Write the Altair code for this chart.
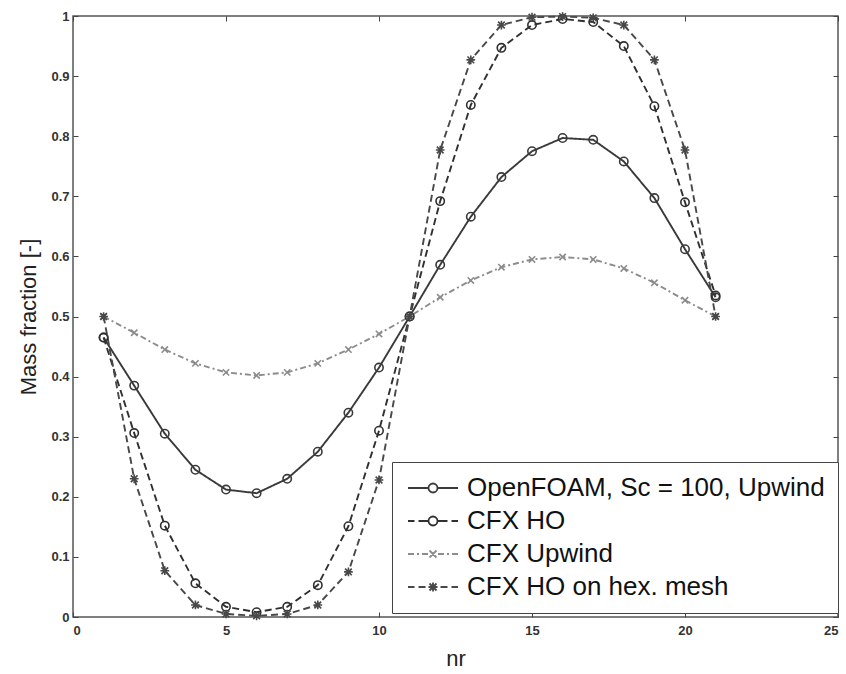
import altair as alt
import pandas as pd

# ---------------- data ----------------
nr = list(range(1, 22))
openfoam = [0.465, 0.385, 0.305, 0.245, 0.212, 0.206, 0.230, 0.275, 0.340, 0.415, 0.500,
            0.586, 0.666, 0.732, 0.775, 0.797, 0.794, 0.758, 0.697, 0.612, 0.532]
cfx_ho = [0.465, 0.306, 0.152, 0.056, 0.017, 0.008, 0.017, 0.053, 0.151, 0.310, 0.500,
          0.692, 0.852, 0.947, 0.985, 0.995, 0.990, 0.950, 0.850, 0.690, 0.535]
cfx_upwind = [0.500, 0.473, 0.445, 0.422, 0.407, 0.402, 0.407, 0.422, 0.445, 0.471, 0.500,
              0.532, 0.560, 0.582, 0.595, 0.599, 0.595, 0.580, 0.556, 0.527, 0.500]
cfx_hex = [0.500, 0.230, 0.077, 0.020, 0.005, 0.002, 0.005, 0.020, 0.075, 0.228, 0.500,
           0.777, 0.927, 0.985, 0.998, 0.999, 0.997, 0.985, 0.927, 0.777, 0.500]

series_names = ["OpenFOAM, Sc = 100, Upwind", "CFX HO", "CFX Upwind", "CFX HO on hex. mesh"]
series_values = [openfoam, cfx_ho, cfx_upwind, cfx_hex]
x_ticks = [0, 5, 10, 15, 20, 25]
y_ticks = [0, 0.1, 0.2, 0.3, 0.4, 0.5, 0.6, 0.7, 0.8, 0.9, 1]

# ---------------- styles ----------------
line_colors = ["#3a3a3a", "#303030", "#8c8c8c", "#484848"]
line_dashes = [[1, 0], [7, 4], [6, 3, 2, 3], [7, 4]]
x_path = "M-1,-1L1,1M-1,1L1,-1"
star_path = "M-1,-1L1,1M-1,1L1,-1M-1.3,0L1.3,0M0,-1.3L0,1.3"
marker_shapes = ["circle", "circle", x_path, star_path]
marker_sizes = [70, 70, 40, 45]

legend_paths = [
    "M-1,0H1.05M1.95,0H4M1.95,0A0.45,0.45,0,1,1,1.05,0A0.45,0.45,0,1,1,1.95,0",
    "M-1,0H-0.35M0.05,0H1.05M1.95,0H2.95M3.35,0H4M1.95,0A0.45,0.45,0,1,1,1.05,0A0.45,0.45,0,1,1,1.95,0",
    "M-1,0H-0.4M-0.1,0H0.1M0.4,0H1.0M2.0,0H2.6M2.9,0H3.1M3.4,0H4"
    "M1.15,-0.35L1.85,0.35M1.15,0.35L1.85,-0.35",
    "M-1,0H-0.35M0.05,0H0.75M1.05,0H1.95M2.25,0H2.95M3.35,0H4"
    "M1.15,-0.35L1.85,0.35M1.15,0.35L1.85,-0.35M1.5,-0.45V0.45",
]

rows = []
for name, vals in zip(series_names, series_values):
    for x, v in zip(nr, vals):
        rows.append({"nr": x, "frac": v, "series": name})
df = pd.DataFrame(rows)

FONT = "Liberation Sans"

x_scale = alt.Scale(domain=[0, 25], nice=False, zero=False)
y_scale = alt.Scale(domain=[0, 1], nice=False)

x_axis = alt.Axis(orient="bottom", values=x_ticks, offset=-5, tickSize=5, tickColor="#444",
                  domain=False, grid=False, labelFont=FONT, labelFontSize=13,
                  labelFontWeight="bold", labelColor="#333", labelPadding=7,
                  title="nr", titleFont=FONT, titleFontSize=22, titleFontWeight="normal",
                  titleColor="#222", titlePadding=11)
y_axis = alt.Axis(orient="left", values=y_ticks, format="~g", offset=-5, tickSize=5,
                  tickColor="#444", domain=False, grid=False, labelFont=FONT,
                  labelFontSize=13, labelFontWeight="bold", labelColor="#333",
                  labelPadding=4, title="Mass fraction [-]", titleFont=FONT,
                  titleFontSize=22, titleFontWeight="normal", titleColor="#222",
                  titlePadding=10)

xenc = alt.X("nr:Q", scale=x_scale, axis=x_axis)
yenc = alt.Y("frac:Q", scale=y_scale, axis=y_axis)

layers = []
for name, col, dash in zip(series_names, line_colors, line_dashes):
    layers.append(
        alt.Chart(df).transform_filter(alt.datum.series == name)
        .mark_line(color=col, strokeWidth=1.9, strokeDash=dash)
        .encode(x=xenc, y=yenc, order="nr:Q")
    )
for name, col, shp, sz in zip(series_names, line_colors, marker_shapes, marker_sizes):
    layers.append(
        alt.Chart(df).transform_filter(alt.datum.series == name)
        .mark_point(shape=shp, size=sz, color=col, strokeWidth=1.6, filled=False, opacity=1)
        .encode(x=xenc, y=yenc)
    )

legend_def = alt.Legend(orient="none", legendX=319, legendY=446, title=None,
                        symbolSize=400, symbolStrokeWidth=1.8, labelFont=FONT,
                        labelFontSize=26, labelColor="#111", labelLimit=700,
                        labelOffset=36, padding=13, rowPadding=7,
                        strokeColor="#444", fillColor="white")
layers.append(
    alt.Chart(df).transform_filter("false")
    .mark_point(filled=False, opacity=1, strokeWidth=1.8)
    .encode(
        x=xenc, y=yenc,
        shape=alt.Shape("series:N", scale=alt.Scale(domain=series_names, range=legend_paths),
                        legend=legend_def),
        color=alt.Color("series:N", scale=alt.Scale(domain=series_names, range=line_colors),
                        legend=legend_def),
    )
)

content = alt.layer(*layers)

# second set of axes: inward ticks on top and right sides
frame_axes = alt.Chart(df).mark_point(opacity=0, size=0).encode(
    x=alt.X("nr:Q", scale=x_scale,
            axis=alt.Axis(orient="top", values=x_ticks, offset=-5, tickSize=5,
                          tickColor="#444", domain=False, grid=False, labels=False,
                          title=None)),
    y=alt.Y("frac:Q", scale=y_scale,
            axis=alt.Axis(orient="right", values=y_ticks, offset=-5, tickSize=5,
                          tickColor="#444", domain=False, grid=False, labels=False,
                          title=None)),
)

chart = (
    alt.layer(content, frame_axes)
    .resolve_axis(x="independent", y="independent")
    .properties(width=765, height=601, autosize=alt.AutoSizeParams(type="none"),
                padding={"left": 73, "top": 16, "right": 8, "bottom": 57},
                background="white")
    .configure_view(stroke="#555", strokeWidth=1.5)
)

chart.save("out.html", embed_options={"renderer": "svg", "actions": False})
